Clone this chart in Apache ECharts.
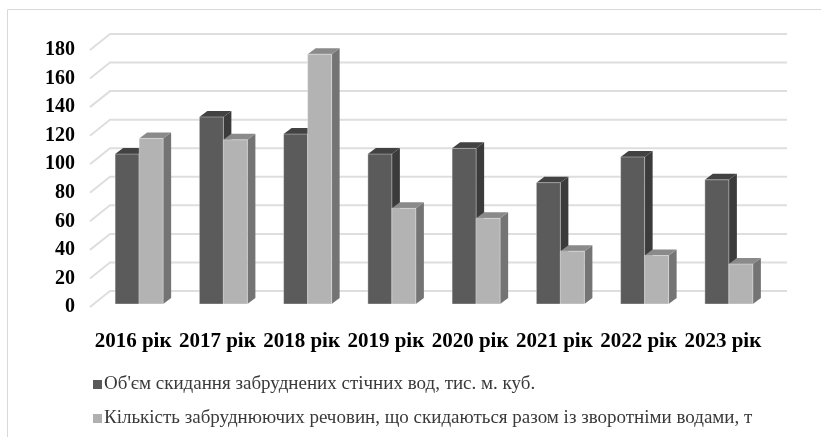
<!DOCTYPE html>
<html>
<head>
<meta charset="utf-8">
<script src="https://cdn.jsdelivr.net/npm/echarts@6/dist/echarts.min.js"></script>
<style>
  html, body { margin: 0; padding: 0; background: #fff; }
  #chart { width: 821px; height: 437px; }
</style>
</head>
<body>
<div id="chart"></div>
<script>
// chart data
var years = ["2016 рік", "2017 рік", "2018 рік", "2019 рік", "2020 рік", "2021 рік", "2022 рік", "2023 рік"];
var wasteWater = [105, 131, 119, 105, 109, 85, 103, 87];
var pollutants = [116, 115, 175, 67, 60, 37, 34, 28];
var yTicks = [0, 20, 40, 60, 80, 100, 120, 140, 160, 180];
var seriesNames = [
  "Об'єм скидання забруднених стічних вод, тис. м. куб.",
  "Кількість забруднюючих речовин, що скидаються разом із зворотніми водами, т"
];

var chart = echarts.init(document.getElementById("chart"));

// depth of the 3d look
var DX = 8, DY = -6;

// one 3d column: front, side, top
function column(side, colors) {
  return function (params, api) {
    var cat = api.value(0);
    var val = api.value(1);
    var base = api.coord([cat, 0]);
    var top = api.coord([cat, val]);
    var w = api.size([1, 0])[0] * 0.285;
    var x0 = side === 0 ? base[0] - w : base[0];
    var x1 = x0 + w;
    var yb = base[1] - 3;
    var yt = top[1] - 3;
    return {
      type: "group",
      children: [
        {
          type: "polygon",
          shape: { points: [[x1, yb], [x1 + DX, yb + DY], [x1 + DX, yt + DY], [x1, yt]] },
          style: { fill: colors.side }
        },
        {
          type: "polygon",
          shape: { points: [[x0, yt], [x0 + DX, yt + DY], [x1 + DX, yt + DY], [x1, yt]] },
          style: { fill: colors.top }
        },
        {
          type: "rect",
          shape: { x: x0, y: yt, width: w, height: yb - yt },
          style: { fill: colors.front, stroke: "rgba(255,255,255,0.35)", lineWidth: 1 }
        }
      ]
    };
  };
}

// back wall grid lines with diagonal on the side wall
function wallLines(params, api) {
  var cs = params.coordSys;
  var y = api.coord([0, api.value(1)])[1];
  return {
    type: "polyline",
    shape: {
      points: [[cs.x - 7, y], [cs.x + 13, y - 16], [cs.x + cs.width + 16, y - 16]]
    },
    style: { stroke: "#dedede", lineWidth: 2, fill: null }
  };
}

var option = {
  animation: false,
  textStyle: { fontFamily: "Liberation Serif" },
  graphic: [
    {
      type: "rect",
      shape: { x: 7.5, y: 9.5, width: 830, height: 450 },
      style: { fill: null, stroke: "#d9d9d9", lineWidth: 1 },
      silent: true
    }
  ],
  grid: { left: 97, right: 50, top: 50, bottom: 130 },
  legend: {
    orient: "vertical",
    left: 88,
    top: 370,
    itemGap: 15,
    itemWidth: 9,
    itemHeight: 9,
    icon: "rect",
    data: seriesNames,
    textStyle: { fontFamily: "Liberation Serif", fontSize: 19, color: "#3a3a3a", padding: [0, 0, 0, -3] }
  },
  xAxis: {
    type: "category",
    data: years,
    axisLine: { show: false },
    axisTick: { show: false },
    axisLabel: {
      margin: 24,
      padding: [0, 12, 0, 0],
      fontFamily: "Liberation Serif",
      fontWeight: "bold",
      fontSize: 21,
      color: "#000",
      interval: 0
    }
  },
  yAxis: {
    type: "value",
    min: 0,
    max: 180,
    interval: 20,
    splitLine: { show: false },
    axisLine: { show: false },
    axisTick: { show: false },
    axisLabel: {
      margin: 22,
      fontFamily: "Liberation Serif",
      fontWeight: "bold",
      fontSize: 20,
      color: "#000"
    }
  },
  series: [
    {
      name: "walls",
      type: "custom",
      silent: true,
      z: 1,
      encode: { x: 0, y: 1 },
      data: yTicks.map(function (t) { return [0, t]; }),
      renderItem: wallLines
    },
    {
      name: seriesNames[0],
      type: "custom",
      z: 2,
      itemStyle: { color: "#595959" },
      encode: { x: 0, y: 1 },
      data: wasteWater.map(function (v, i) { return [i, v]; }),
      renderItem: column(0, { front: "#5b5b5b", side: "#3b3b3b", top: "#424242" })
    },
    {
      name: seriesNames[1],
      type: "custom",
      z: 3,
      itemStyle: { color: "#b0b0b0" },
      encode: { x: 0, y: 1 },
      data: pollutants.map(function (v, i) { return [i, v]; }),
      renderItem: column(1, { front: "#b3b3b3", side: "#747474", top: "#8a8a8a" })
    }
  ]
};

option && chart.setOption(option);
</script>
</body>
</html>
